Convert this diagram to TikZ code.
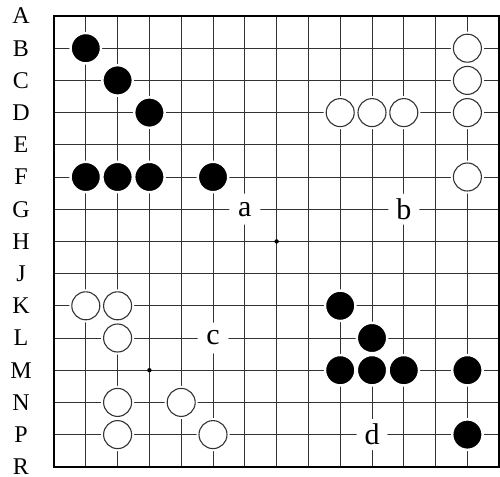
\documentclass[tikz,border=0pt]{standalone}
\usepackage{fontspec}
\setmainfont{Liberation Serif}
\usepackage{tikz}

\tikzset{
  stone/.style={circle, inner sep=0pt},
  blackstone/.style={stone, fill=black, draw=white, line width=2.4pt, minimum size=30.4pt},
  whitestone/.style={stone, fill=white, draw=black!80, line width=1.1pt, minimum size=28pt, preaction={draw=white, line width=5pt}},
  pointlabel/.style={circle, fill=white, inner sep=0pt, minimum size=31pt, font=\fontsize{30}{30}\selectfont},
  rowlabel/.style={inner sep=0pt, font=\fontsize{24}{24}\selectfont},
  gridline/.style={black!80, line width=1pt},
}

\begin{document}
\begin{tikzpicture}[x=31.8pt, y=-32.2pt]
    \useasboundingbox (-1.698, -0.497) rectangle (14.025, 14.286);
    \foreach \i in {1,...,13} {
        \draw[gridline] (\i, 0) -- (\i, 14);
        \draw[gridline] (0, \i) -- (14, \i);
    }
    \draw[line width=2.4pt] (0, 0) rectangle (14, 14);
    \fill (7, 7) circle (2.2pt);
    \fill (3, 11) circle (2.2pt);
    \foreach \r [count=\k from 0] in {A,B,C,D,E,F,G,H,J,K,L,M,N,P,R}
        \node[rowlabel] (row-\r) at (-1.04, \k) {\r};
    \foreach \c/\r in {1/1, 2/2, 3/3, 1/5, 2/5, 3/5, 5/5, 9/9, 10/10, 9/11, 10/11, 11/11, 13/11, 13/13}
        \node[blackstone] (b-\c-\r) at (\c, \r) {};
    \foreach \c/\r in {13/1, 13/2, 13/3, 13/5, 9/3, 10/3, 11/3, 1/9, 2/9, 2/10, 2/12, 4/12, 2/13, 5/13}
        \node[whitestone] (w-\c-\r) at (\c, \r) {};
    \node[pointlabel] (a) at (6, 6) {a};
    \node[pointlabel] (b) at (11, 6) {b};
    \node[pointlabel] (c) at (5, 10) {c};
    \node[pointlabel] (d) at (10, 13) {d};
\end{tikzpicture}
\end{document}
